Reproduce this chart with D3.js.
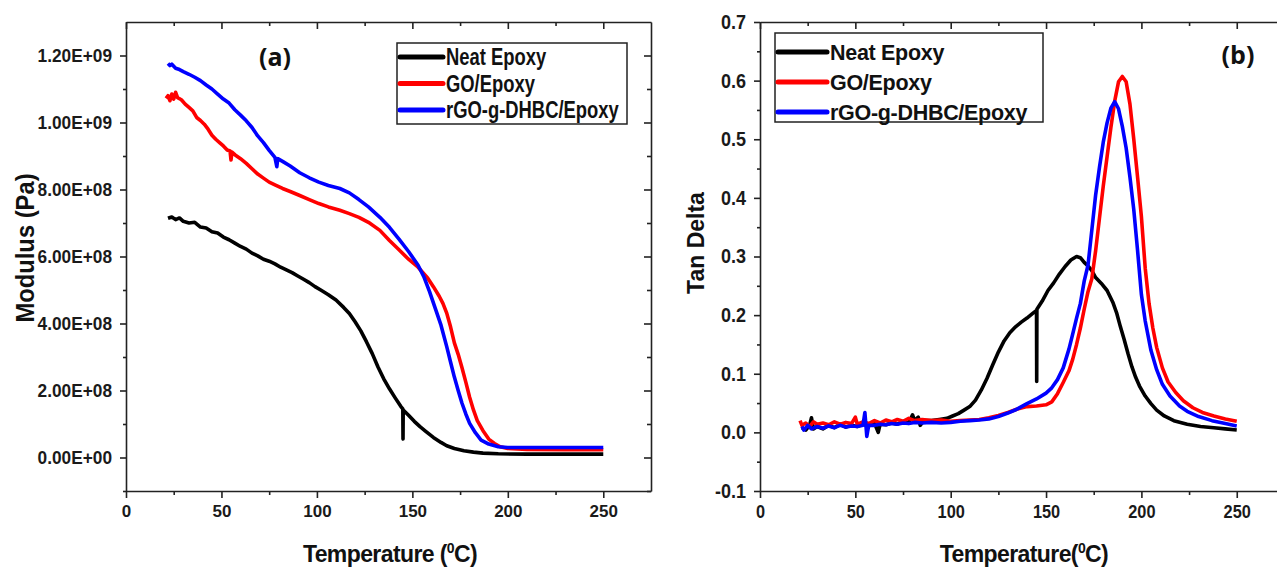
<!DOCTYPE html>
<html>
<head>
<meta charset="utf-8">
<script src="https://cdn.jsdelivr.net/npm/d3@7"></script>
<style>
  body { margin: 0; background: #fff; }
  svg { display: block; }
  .tick text { font-family: "Liberation Sans", Arial, sans-serif; font-weight: bold; fill: #1a1a1a; }
  .axis path, .axis line { stroke: #222; stroke-width: 1.6; }
</style>
</head>
<body>
<svg id="fig" width="1277" height="568"></svg>
<script>
`use strict`;

// ---- data ----
const seriesNames = [`Neat Epoxy`, `GO/Epoxy`, `rGO-g-DHBC/Epoxy`];
const seriesColors = [`#000000`, `#ff0000`, `#0000ff`];

const xTicks = [0, 50, 100, 150, 200, 250];
const xMinor = [25, 75, 125, 175, 225];

// storage modulus, units of 1e8 Pa
const modTicks = [0, 2, 4, 6, 8, 10, 12];
const modMinor = [-1, 1, 3, 5, 7, 9, 11];
const modTickLabels = [`0.00E+00`, `2.00E+08`, `4.00E+08`, `6.00E+08`, `8.00E+08`, `1.00E+09`, `1.20E+09`];

const modNeat = [[22,7.14],[24,7.18],[26,7.10],[28,7.15],[30,7.05],[33,7.0],[36,7.02],[39,6.88],[42,6.85],[45,6.74],[48,6.70],[51,6.58],[54,6.50],[57,6.40],[60,6.30],[63,6.22],[66,6.10],[69,6.02],[72,5.92],[75,5.86],[78,5.78],[81,5.68],[84,5.60],[87,5.52],[90,5.42],[93,5.32],[96,5.22],[99,5.10],[102,5.0],[106,4.86],[110,4.70],[114,4.48],[117,4.30],[120,4.05],[123,3.78],[126,3.45],[129,3.10],[132,2.70],[135,2.35],[138,2.05],[141,1.78],[144,1.52],[145,1.45],[145.1,0.55],[145.2,1.42],[148,1.26],[151,1.08],[154,0.92],[157,0.78],[161,0.60],[165,0.45],[168,0.35],[172,0.27],[177,0.20],[182,0.16],[187,0.13],[195,0.11],[210,0.10],[230,0.10],[250,0.10]];

const modGO = [[21,10.72],[22,10.80],[23,10.65],[24,10.85],[25,10.70],[26,10.90],[27,10.74],[29,10.68],[31,10.55],[33,10.45],[35,10.35],[37,10.15],[39,10.06],[41,9.95],[43,9.80],[45,9.62],[47,9.50],[49,9.40],[51,9.30],[53,9.18],[54.5,9.15],[55,8.88],[55.5,9.12],[57,9.04],[60,8.92],[63,8.78],[66,8.62],[69,8.46],[72,8.34],[75,8.22],[78,8.14],[82,8.03],[86,7.94],[91,7.82],[96,7.70],[101,7.58],[106,7.48],[112,7.38],[117,7.28],[122,7.17],[127,7.02],[133,6.78],[138,6.48],[143,6.20],[148,5.92],[153,5.68],[158,5.36],[161,5.10],[164,4.82],[166,4.60],[168,4.31],[170,3.90],[172,3.42],[174,3.08],[176,2.68],[178,2.25],[180,1.80],[182,1.42],[184,1.10],[187,0.80],[190,0.55],[193,0.42],[196,0.32],[200,0.27],[210,0.24],[230,0.23],[250,0.23]];

const modRGO = [[22,11.76],[23,11.70],[24,11.74],[26,11.62],[28,11.58],[30,11.52],[33,11.44],[36,11.35],[39,11.25],[42,11.12],[45,11.00],[48,10.85],[51,10.70],[54,10.58],[57,10.38],[60,10.22],[63,10.05],[66,9.85],[69,9.60],[72,9.40],[75,9.17],[78,8.96],[79,8.68],[79.5,8.92],[82,8.84],[86,8.70],[91,8.50],[96,8.35],[101,8.22],[106,8.12],[112,8.03],[117,7.90],[122,7.70],[127,7.48],[133,7.17],[138,6.87],[143,6.52],[148,6.15],[153,5.74],[156,5.40],[159,4.95],[162,4.45],[165,3.95],[168,3.31],[170,2.85],[172,2.40],[174,2.00],[176,1.62],[178,1.30],[180,1.02],[183,0.74],[186,0.52],[190,0.40],[195,0.32],[200,0.30],[220,0.30],[250,0.30]];

// tan delta
const tanTicks = [-0.1, 0, 0.1, 0.2, 0.3, 0.4, 0.5, 0.6, 0.7];
const tanMinor = [-0.05, 0.05, 0.15, 0.25, 0.35, 0.45, 0.55, 0.65];
const tanTickLabels = [`-0.1`, `0.0`, `0.1`, `0.2`, `0.3`, `0.4`, `0.5`, `0.6`, `0.7`];

const tanNeat = [[22,0.008],[24,0.004],[26,0.012],[27,0.025],[28,0.006],[30,0.010],[33,0.006],[36,0.012],[39,0.008],[42,0.014],[45,0.009],[48,0.012],[51,0.010],[54,0.014],[57,0.011],[60,0.016],[62,0.0],[63,0.014],[66,0.013],[69,0.016],[72,0.014],[75,0.018],[78,0.016],[80,0.030],[81,0.020],[83,0.026],[84,0.012],[86,0.020],[90,0.020],[94,0.022],[98,0.024],[101,0.028],[104,0.032],[107,0.038],[110,0.044],[113,0.055],[116,0.072],[119,0.092],[122,0.115],[125,0.137],[128,0.156],[131,0.170],[134,0.180],[137,0.188],[140,0.195],[143,0.203],[145,0.208],[145.1,0.087],[145.2,0.210],[148,0.224],[151,0.242],[154,0.255],[157,0.270],[160,0.283],[163,0.294],[166,0.300],[168,0.298],[170,0.290],[172,0.284],[174,0.276],[176,0.264],[179,0.254],[182,0.242],[185,0.222],[187,0.204],[189,0.180],[191,0.158],[193,0.134],[195,0.112],[197,0.094],[199,0.079],[202,0.062],[205,0.049],[208,0.038],[212,0.028],[217,0.020],[224,0.014],[231,0.010],[238,0.008],[244,0.006],[250,0.004]];

const tanGO = [[21,0.020],[22,0.012],[24,0.016],[26,0.010],[28,0.018],[30,0.014],[33,0.016],[36,0.013],[39,0.018],[42,0.014],[45,0.017],[48,0.015],[50,0.026],[51,0.014],[54,0.018],[57,0.015],[60,0.020],[63,0.016],[66,0.021],[69,0.018],[72,0.022],[75,0.019],[78,0.024],[81,0.020],[85,0.022],[90,0.020],[95,0.021],[100,0.019],[105,0.020],[110,0.021],[115,0.022],[120,0.025],[125,0.029],[130,0.034],[135,0.040],[140,0.044],[145,0.045],[150,0.047],[153,0.052],[156,0.066],[159,0.085],[162,0.105],[164,0.125],[166,0.150],[168,0.178],[170,0.210],[172,0.240],[174,0.262],[176,0.310],[178,0.365],[180,0.420],[182,0.470],[184,0.520],[186,0.565],[188,0.598],[190,0.607],[192,0.598],[194,0.560],[196,0.500],[198,0.435],[200,0.368],[202,0.280],[204,0.220],[206,0.178],[208,0.145],[211,0.110],[214,0.086],[218,0.068],[222,0.054],[227,0.042],[232,0.034],[238,0.028],[244,0.023],[250,0.019]];

const tanRGO = [[22,0.010],[23,0.004],[25,0.012],[27,0.006],[30,0.010],[33,0.007],[36,0.011],[39,0.008],[42,0.012],[45,0.009],[48,0.011],[51,0.010],[54,0.012],[55,0.034],[56,-0.007],[57,0.012],[60,0.012],[63,0.014],[66,0.013],[69,0.015],[72,0.014],[75,0.016],[78,0.015],[81,0.017],[85,0.016],[90,0.017],[95,0.016],[100,0.017],[105,0.019],[110,0.020],[115,0.021],[120,0.023],[125,0.027],[130,0.033],[135,0.040],[140,0.049],[145,0.057],[150,0.067],[153,0.076],[156,0.090],[159,0.110],[162,0.142],[164,0.168],[166,0.195],[168,0.220],[170,0.258],[172,0.285],[174,0.345],[176,0.405],[178,0.452],[180,0.495],[182,0.528],[184,0.553],[186,0.564],[188,0.552],[190,0.522],[192,0.485],[194,0.435],[196,0.380],[198,0.310],[200,0.235],[202,0.190],[205,0.140],[208,0.107],[211,0.082],[215,0.062],[220,0.045],[224,0.036],[230,0.027],[237,0.020],[244,0.015],[250,0.011]];

const svg = d3.select(`#fig`);

const boldSans = `"Liberation Sans", Arial, sans-serif`;

// narrow the glyphs of a text selection by a factor (the source uses a condensed face)
let squeeze = (sel, k) => {
  if (k === 1) return;
  sel.each(function () {
    const w = this.getComputedTextLength();
    d3.select(this).attr(`textLength`, w * k).attr(`lengthAdjust`, `spacingAndGlyphs`);
  });
};

let drawPanel = (opt) => {

  const x = d3.scaleLinear().domain([0, 275]).range(opt.xr);
  const y = d3.scaleLinear().domain(opt.yd).range([491, 22]);

  const g = svg.append(`g`);

  // data lines
  const line = d3.line().x(d => x(d[0])).y(d => y(d[1]));

  opt.series.forEach((s, i) => {
    g.append(`path`)
      .datum(s)
      .attr(`d`, line)
      .attr(`fill`, `none`)
      .attr(`stroke`, seriesColors[i])
      .attr(`stroke-width`, 3.6)
      .attr(`stroke-linejoin`, `round`);
  });

  // bottom axis
  const xl = g.append(`g`).attr(`class`, `axis`)
    .attr(`transform`, `translate(0,491)`)
    .call(d3.axisBottom(x).tickValues(xTicks).tickSize(7).tickSizeOuter(0).tickPadding(7))
    .selectAll(`text`).style(`font-size`, opt.xfs + `px`);
  squeeze(xl, opt.xsq);

  g.append(`g`).attr(`class`, `axis`)
    .attr(`transform`, `translate(0,491)`)
    .call(d3.axisBottom(x).tickValues(xMinor).tickSize(4).tickSizeOuter(0).tickFormat(``))
    .select(`.domain`).remove();

  // top axis, ticks pointing inward
  g.append(`g`).attr(`class`, `axis`)
    .attr(`transform`, `translate(0,22)`)
    .call(d3.axisTop(x).tickValues(xTicks).tickSize(-7).tickSizeOuter(0).tickFormat(``));

  g.append(`g`).attr(`class`, `axis`)
    .attr(`transform`, `translate(0,22)`)
    .call(d3.axisTop(x).tickValues(xMinor).tickSize(-4).tickSizeOuter(0).tickFormat(``))
    .select(`.domain`).remove();

  // left axis
  const yl = g.append(`g`).attr(`class`, `axis`)
    .attr(`transform`, `translate(${opt.xr[0]},0)`)
    .call(d3.axisLeft(y).tickValues(opt.yTicks).tickSize(6).tickSizeOuter(0).tickPadding(opt.ypad)
      .tickFormat((d, i) => opt.yLabels[i]))
    .selectAll(`text`)
      .style(`font-size`, opt.yfs + `px`);
  squeeze(yl, opt.ysq);

  g.append(`g`).attr(`class`, `axis`)
    .attr(`transform`, `translate(${opt.xr[0]},0)`)
    .call(d3.axisLeft(y).tickValues(opt.yMinor).tickSize(3).tickSizeOuter(0).tickFormat(``))
    .select(`.domain`).remove();

  // right axis, ticks pointing inward
  const xr1 = x(275);
  g.append(`g`).attr(`class`, `axis`)
    .attr(`transform`, `translate(${xr1},0)`)
    .call(d3.axisRight(y).tickValues(opt.yTicks).tickSize(-7).tickSizeOuter(0).tickFormat(``));

  g.append(`g`).attr(`class`, `axis`)
    .attr(`transform`, `translate(${xr1},0)`)
    .call(d3.axisRight(y).tickValues(opt.yMinor).tickSize(-4).tickSizeOuter(0).tickFormat(``))
    .select(`.domain`).remove();

  // legend
  const lg = opt.legend;
  g.append(`rect`)
    .attr(`x`, lg.x).attr(`y`, lg.y)
    .attr(`width`, lg.w).attr(`height`, lg.h)
    .attr(`fill`, `#fff`)
    .attr(`stroke`, `#222`)
    .attr(`stroke-width`, 1.5);

  seriesNames.forEach((name, i) => {
    const ry = lg.y + lg.r0 + i * lg.dy;
    g.append(`line`)
      .attr(`x1`, lg.x + 3).attr(`x2`, lg.x + lg.lw)
      .attr(`y1`, ry).attr(`y2`, ry)
      .attr(`stroke`, seriesColors[i])
      .attr(`stroke-width`, 5)
      .attr(`stroke-linecap`, `round`);
    const t = g.append(`text`)
      .attr(`x`, lg.x + lg.lw + 3)
      .attr(`y`, ry + lg.fs * 0.36)
      .style(`font-family`, boldSans)
      .style(`font-weight`, `bold`)
      .style(`font-size`, lg.fs + `px`)
      .style(`letter-spacing`, lg.ls + `px`)
      .attr(`fill`, `#111`)
      .text(name);
    squeeze(t, lg.sq);
  });

  // panel tag
  g.append(`text`)
    .attr(`x`, opt.tag[0]).attr(`y`, opt.tag[1])
    .attr(`text-anchor`, `middle`)
    .style(`font-family`, `"Open Sans", sans-serif`)
    .style(`font-weight`, `bold`)
    .style(`font-size`, `25px`)
    .attr(`fill`, `#111`)
    .text(opt.tag[2]);

  // x title
  const xt = g.append(`text`)
    .attr(`x`, opt.xTitle[0]).attr(`y`, 562)
    .attr(`text-anchor`, `middle`)
    .style(`font-family`, boldSans)
    .style(`font-weight`, `bold`)
    .style(`font-size`, `23px`)
    .style(`letter-spacing`, `-0.6px`)
    .attr(`fill`, `#111`);
  xt.append(`tspan`).text(opt.xTitle[1]);
  xt.append(`tspan`).attr(`dy`, -9).style(`font-size`, `14px`).text(`0`);
  xt.append(`tspan`).attr(`dy`, 9).text(`C)`);

  // y title
  const yt = g.append(`text`)
    .attr(`transform`, `translate(${opt.yTitle[0]},${opt.yTitle[1]}) rotate(-90)`)
    .attr(`text-anchor`, `middle`)
    .style(`font-family`, boldSans)
    .style(`font-weight`, `bold`)
    .style(`font-size`, opt.yTitle[3] + `px`)
    .attr(`fill`, `#111`)
    .text(opt.yTitle[2]);
  squeeze(yt, opt.yTitle[4]);
};

drawPanel({
  xr: [126, 651],
  yd: [-1, 13],
  yTicks: modTicks,
  yMinor: modMinor,
  yLabels: modTickLabels,
  yfs: 18, ysq: 0.96, ypad: 8, xfs: 17, xsq: 1,
  series: [modNeat, modGO, modRGO],
  legend: {x: 397, y: 43, w: 230, h: 81, r0: 14, dy: 26.5, lw: 46, fs: 23, ls: 0, sq: 0.8},
  tag: [275, 66, `(a)`],
  xTitle: [390, `Temperature (`],
  yTitle: [34, 248, `Modulus (Pa)`, 25, 0.95]
});

drawPanel({
  xr: [760, 760 + 275 * 1.907],
  yd: [-0.1, 0.7],
  yTicks: tanTicks,
  yMinor: tanMinor,
  yLabels: tanTickLabels,
  yfs: 20, ysq: 0.9, ypad: 8, xfs: 19, xsq: 0.86,
  series: [tanNeat, tanGO, tanRGO],
  legend: {x: 775, y: 33, w: 268, h: 89, r0: 19, dy: 30, lw: 52, fs: 21.5, ls: -0.3, sq: 1},
  tag: [1238, 64, `(b)`],
  xTitle: [1024, `Temperature(`],
  yTitle: [704, 243, `Tan Delta`, 23, 1]
});
</script>
</body>
</html>
